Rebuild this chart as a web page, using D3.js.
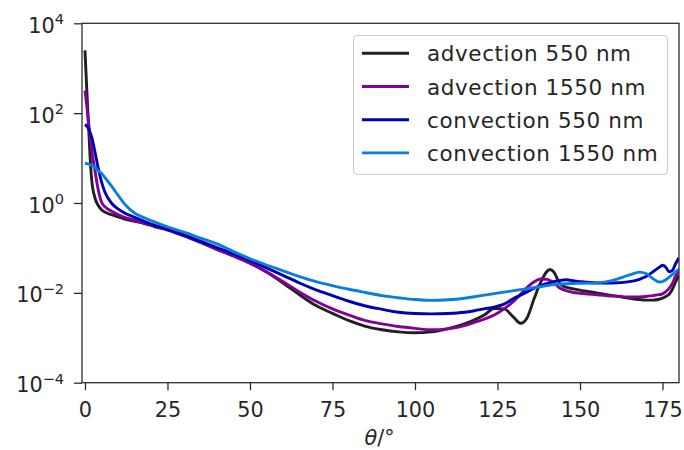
<!DOCTYPE html>
<html>
<head>
<meta charset="utf-8">
<script src="https://cdn.jsdelivr.net/npm/d3@7"></script>
<style>
  html, body { margin: 0; padding: 0; background: #fff; }
  svg { display: block; font-family: "DejaVu Sans", sans-serif; }
</style>
</head>
<body>
<svg id="chart" width="684" height="450"></svg>
<script>
// ---- data ----
const theta = [0, 0.5, 1, 1.5, 2, 3, 4, 5, 6, 8, 10, 12, 15, 18, 21, 25, 30, 35, 40, 45, 50, 55, 60, 65, 70, 75, 80, 85, 90, 95, 100, 105, 110, 115, 118, 121, 124, 127, 130, 132, 134, 136, 138, 140, 141, 142, 144, 146, 148, 150, 155, 160, 165, 168, 170, 172, 174, 175, 176, 177, 178, 179, 180];

const advection550 = [2500, 400, 71, 12.6, 3.5, 1.32, 0.89, 0.71, 0.63, 0.55, 0.49, 0.44, 0.39, 0.35, 0.30, 0.25, 0.186, 0.132, 0.093, 0.066, 0.046, 0.029, 0.0166, 0.0091, 0.0052, 0.0035, 0.0024, 0.0018, 0.00151, 0.00135, 0.00129, 0.00135, 0.0016, 0.00205, 0.0025, 0.0032, 0.0045, 0.0044, 0.0028, 0.0021, 0.0028, 0.0071, 0.0166, 0.030, 0.033, 0.0295, 0.0158, 0.0132, 0.0123, 0.0115, 0.0100, 0.0087, 0.0076, 0.0071, 0.0069, 0.0069, 0.0072, 0.0076, 0.0083, 0.0093, 0.012, 0.0178, 0.025];

const advection1550 = [320, 160, 71, 35, 16, 5.4, 2.0, 1.05, 0.83, 0.66, 0.55, 0.48, 0.41, 0.355, 0.31, 0.257, 0.19, 0.135, 0.093, 0.066, 0.046, 0.0295, 0.0178, 0.0105, 0.0065, 0.0044, 0.0032, 0.0024, 0.00204, 0.00178, 0.00162, 0.00151, 0.00158, 0.00186, 0.0022, 0.0026, 0.0032, 0.0044, 0.0066, 0.0093, 0.0132, 0.0174, 0.0204, 0.020, 0.0186, 0.017, 0.0126, 0.011, 0.0102, 0.0098, 0.0091, 0.0085, 0.0081, 0.0081, 0.0083, 0.0087, 0.0091, 0.0095, 0.0107, 0.0126, 0.0162, 0.024, 0.030];

const convection550 = [56, 52, 46, 38, 30, 14, 6.0, 3.0, 1.78, 1.0, 0.74, 0.60, 0.48, 0.39, 0.32, 0.263, 0.195, 0.141, 0.102, 0.074, 0.0525, 0.036, 0.0245, 0.0166, 0.0117, 0.0087, 0.0065, 0.0051, 0.0043, 0.0037, 0.00347, 0.0034, 0.00347, 0.0037, 0.0040, 0.0044, 0.0048, 0.0056, 0.0076, 0.0089, 0.0105, 0.0126, 0.0145, 0.0162, 0.017, 0.0178, 0.019, 0.0195, 0.0186, 0.0178, 0.0166, 0.0166, 0.0178, 0.020, 0.023, 0.029, 0.037, 0.041, 0.037, 0.0295, 0.0316, 0.045, 0.060];

const convection1550 = [7.6, 7.6, 7.4, 7.2, 6.9, 6.3, 5.2, 4.6, 3.7, 2.4, 1.5, 0.95, 0.60, 0.47, 0.38, 0.295, 0.224, 0.166, 0.123, 0.083, 0.0575, 0.0417, 0.031, 0.023, 0.0178, 0.0145, 0.012, 0.0102, 0.0087, 0.0078, 0.0071, 0.0068, 0.0070, 0.0076, 0.0082, 0.0089, 0.0096, 0.0104, 0.0112, 0.0118, 0.0124, 0.013, 0.0137, 0.0145, 0.0149, 0.0153, 0.0157, 0.016, 0.0162, 0.0163, 0.0167, 0.019, 0.025, 0.029, 0.027, 0.021, 0.0174, 0.0178, 0.0195, 0.0224, 0.0257, 0.0295, 0.033];

const seriesNames = ["advection 550 nm", "advection 1550 nm", "convection 550 nm", "convection 1550 nm"];
const seriesColors = ["#202020", "#84009a", "#0000b8", "#0a7ee0"];
const seriesValues = [advection550, advection1550, convection550, convection1550];

const xTicks = [0, 25, 50, 75, 100, 125, 150, 175];
const yTickExps = [4, 2, 0, -2, -4];

// ---- layout ----
const svg = d3.select("#chart");
const L = 82, R = 679, T = 23.3, B = 382.7;
const textColor = "#262626";
const fs = 20.8;

const x = d3.scaleLinear().domain([-0.9, 180]).range([L, R]);
const y = d3.scaleLog().domain([1e-4, 1e4]).range([B, T]);

svg.append("defs").append("clipPath").attr("id", "clip")
  .append("rect").attr("x", L).attr("y", T).attr("width", R - L).attr("height", B - T);

// lines
const line = d3.line()
  .x(d => x(d[0]))
  .y(d => y(d[1]))
  .curve(d3.curveMonotoneX);

const gLines = svg.append("g").attr("clip-path", "url(#clip)");
seriesValues.forEach((vals, i) => {
  gLines.append("path")
    .datum(theta.map((t, j) => [t, vals[j]]))
    .attr("d", line)
    .attr("fill", "none")
    .attr("stroke", seriesColors[i])
    .attr("stroke-width", 2.9)
    .attr("stroke-linejoin", "round")
    .attr("stroke-linecap", "butt");
});

// frame
svg.append("rect")
  .attr("x", L).attr("y", T).attr("width", R - L).attr("height", B - T)
  .attr("fill", "none").attr("stroke", textColor).attr("stroke-width", 1.25);

// x axis
const xAxis = d3.axisBottom(x).tickValues(xTicks).tickSize(7.5).tickPadding(4).tickSizeOuter(0);
const gx = svg.append("g").attr("transform", `translate(0,${B})`).call(xAxis);
gx.select(".domain").remove();
gx.selectAll(".tick line").attr("stroke", textColor).attr("stroke-width", 1.25);
gx.selectAll(".tick text")
  .attr("fill", textColor)
  .attr("font-family", "DejaVu Sans")
  .attr("font-size", fs)
  .attr("dy", null)
  .attr("y", 34);

// y axis (powers of ten)
const yAxis = d3.axisLeft(y).tickValues(yTickExps.map(e => Math.pow(10, e))).tickSize(8).tickFormat("");
const gy = svg.append("g").attr("transform", `translate(${L},0)`).call(yAxis);
gy.select(".domain").remove();
gy.selectAll(".tick line").attr("stroke", textColor).attr("stroke-width", 1.25);
gy.selectAll(".tick text").remove();
yTickExps.forEach(e => {
  const t = svg.append("text")
    .attr("x", 64)
    .attr("y", y(Math.pow(10, e)) + 9.5)
    .attr("text-anchor", "end")
    .attr("fill", textColor)
    .attr("font-size", fs);
  t.append("tspan").text("10");
  t.append("tspan").attr("dy", -8.5).attr("font-size", 14.5)
    .text(e < 0 ? "\u2212" + Math.abs(e) : String(e));
});

// x label
const xl = svg.append("text")
  .attr("x", (L + R) / 2 - 1)
  .attr("y", 445)
  .attr("text-anchor", "middle")
  .attr("fill", textColor)
  .attr("font-size", fs);
xl.append("tspan").attr("font-style", "italic").text("\u03B8");
xl.append("tspan").text("/\u00B0");

// legend
const lg = svg.append("g");
lg.append("rect")
  .attr("x", 353.5).attr("y", 35.5).attr("width", 314).attr("height", 139)
  .attr("rx", 4).attr("ry", 4)
  .attr("fill", "#ffffff").attr("fill-opacity", 0.8)
  .attr("stroke", "#cccccc").attr("stroke-width", 1.1);
seriesNames.forEach((name, i) => {
  const cy = 53.3 + i * 33.2;
  lg.append("line")
    .attr("x1", 362).attr("x2", 409).attr("y1", cy).attr("y2", cy)
    .attr("stroke", seriesColors[i]).attr("stroke-width", 2.9);
  lg.append("text")
    .attr("x", 427).attr("y", cy + 8)
    .attr("fill", textColor).attr("font-size", 21.5)
    .attr("letter-spacing", 0.6)
    .text(name);
});
</script>
</body>
</html>
